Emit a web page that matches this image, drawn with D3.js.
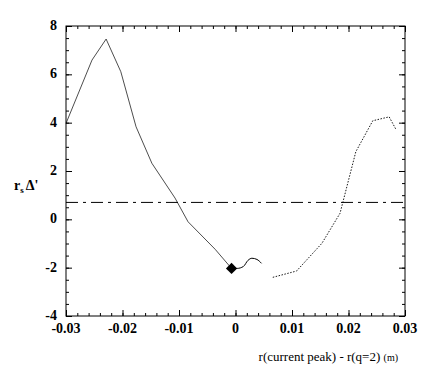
<!DOCTYPE html>
<html>
<head>
<meta charset="utf-8">
<script src="https://cdn.jsdelivr.net/npm/d3@7"></script>
<style>
  body { margin: 0; background: #fff; }
</style>
</head>
<body>
<script>
"use strict";
// curve, left part (ends at the diamond)
const leftX = [-0.0300, -0.0254, -0.0229, -0.0203, -0.0176, -0.0148, -0.0107, -0.0084, -0.0036, -0.0007]
const leftY = [3.97, 6.59, 7.46, 6.11, 3.83, 2.32, 0.88, -0.10, -1.24, -2.03]
// small wiggle right after the diamond
const wiggleX = [-0.0007, 0.0003, 0.0014, 0.0022, 0.0029, 0.0038, 0.0046]
const wiggleY = [-2.03, -2.03, -1.95, -1.70, -1.61, -1.66, -1.82]
// dotted right part
const rightX = [0.0066, 0.0108, 0.0153, 0.0185, 0.0213, 0.0243, 0.0272, 0.0284]
const rightY = [-2.40, -2.14, -0.99, 0.25, 2.80, 4.08, 4.24, 3.72]
const markerX = [-0.0007]
const markerY = [-2.03]
const refLevel = 0.70
const xTicks = [-0.03, -0.02, -0.01, 0, 0.01, 0.02, 0.03]
const xTickLabels = ["-0.03", "-0.02", "-0.01", "0", "0.01", "0.02", "0.03"]
const yTicks = [-4, -2, 0, 2, 4, 6, 8]

const width = 441, height = 375
const m = { left: 66, right: 405, top: 26, bottom: 316 }
const serif = "'Liberation Serif', 'Times New Roman', 'DejaVu Serif', serif"

const svg = d3.select("body").append("svg")
    .attr("width", width)
    .attr("height", height)
    .attr("font-family", serif)

const x = d3.scaleLinear().domain([-0.03, 0.03]).range([m.left, m.right])
const y = d3.scaleLinear().domain([-4, 8]).range([m.bottom, m.top])

// frame
svg.append("rect")
    .attr("x", m.left).attr("y", m.top)
    .attr("width", m.right - m.left).attr("height", m.bottom - m.top)
    .attr("fill", "none").attr("stroke", "#000").attr("stroke-width", 1)

// ticks on all four sides, pointing in
const xMinor = d3.range(-0.03, 0.0301, 0.002)
const yMinor = d3.range(-4, 8.01, 0.5)
function ticks(g, axis, size) {
    g.call(axis.tickSize(size).tickFormat(""))
    g.select(".domain").remove()
    g.selectAll("line").attr("stroke", "#000")
}
svg.append("g").attr("transform", `translate(0,${m.bottom})`).call(g => ticks(g, d3.axisTop(x).tickValues(xMinor), 3))
svg.append("g").attr("transform", `translate(0,${m.bottom})`).call(g => ticks(g, d3.axisTop(x).tickValues(xTicks), 6))
svg.append("g").attr("transform", `translate(0,${m.top})`).call(g => ticks(g, d3.axisBottom(x).tickValues(xMinor), 3))
svg.append("g").attr("transform", `translate(0,${m.top})`).call(g => ticks(g, d3.axisBottom(x).tickValues(xTicks), 6))
svg.append("g").attr("transform", `translate(${m.left},0)`).call(g => ticks(g, d3.axisRight(y).tickValues(yMinor), 3))
svg.append("g").attr("transform", `translate(${m.left},0)`).call(g => ticks(g, d3.axisRight(y).tickValues(yTicks), 6))
svg.append("g").attr("transform", `translate(${m.right},0)`).call(g => ticks(g, d3.axisLeft(y).tickValues(yMinor), 3))
svg.append("g").attr("transform", `translate(${m.right},0)`).call(g => ticks(g, d3.axisLeft(y).tickValues(yTicks), 6))

// tick labels
svg.append("g").selectAll("text")
    .data(xTicks)
    .join("text")
    .attr("x", d => x(d))
    .attr("y", 333)
    .attr("text-anchor", "middle")
    .attr("font-family", serif)
    .attr("font-size", 14).attr("font-weight", "bold")
    .text((d, i) => xTickLabels[i])

svg.append("g").selectAll("text")
    .data(yTicks)
    .join("text")
    .attr("x", 57)
    .attr("y", d => y(d) + 4)
    .attr("text-anchor", "end")
    .attr("font-family", serif)
    .attr("font-size", 14).attr("font-weight", "bold")
    .text(d => d)

// dash-dot reference level
svg.append("line")
    .attr("x1", m.left).attr("x2", m.right)
    .attr("y1", y(refLevel)).attr("y2", y(refLevel))
    .attr("stroke", "#000").attr("stroke-width", 1)
    .attr("stroke-dasharray", "12,5,3,5")

const line = d3.line().x(d => x(d[0])).y(d => y(d[1]))

svg.append("path")
    .datum(d3.zip(leftX, leftY))
    .attr("d", line)
    .attr("fill", "none").attr("stroke", "#000").attr("stroke-width", 0.7)

svg.append("path")
    .datum(d3.zip(wiggleX, wiggleY))
    .attr("d", d3.line().curve(d3.curveMonotoneX).x(d => x(d[0])).y(d => y(d[1])))
    .attr("fill", "none").attr("stroke", "#000").attr("stroke-width", 1)

svg.append("path")
    .datum(d3.zip(rightX, rightY))
    .attr("d", line)
    .attr("fill", "none").attr("stroke", "#000").attr("stroke-width", 0.9)
    .attr("stroke-dasharray", "1.5,1.5")

// diamond marker
svg.selectAll(".marker")
    .data(d3.zip(markerX, markerY))
    .join("path")
    .attr("class", "marker")
    .attr("transform", d => `translate(${x(d[0])},${y(d[1])})`)
    .attr("d", d3.symbol(d3.symbolDiamond2, 80))
    .attr("fill", "#000")

// axis titles
const yl = svg.append("text")
    .attr("x", 14).attr("y", 190)
    .attr("font-family", serif)
    .attr("font-size", 14).attr("font-weight", "bold")
yl.append("tspan").text("r")
yl.append("tspan").attr("font-size", 9).attr("dy", 3).text("s")
yl.append("tspan").attr("dy", -3).attr("dx", 2).text("Δ'")

const xl = svg.append("text")
    .attr("x", 398).attr("y", 361)
    .attr("text-anchor", "end")
    .attr("font-family", serif)
    .attr("font-size", 13)
xl.append("tspan").text("r(current peak) - r(q=2) ")
xl.append("tspan").attr("font-size", 10).text("(m)")
</script>
</body>
</html>
